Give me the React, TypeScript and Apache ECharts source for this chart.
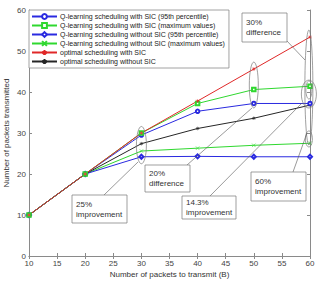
import React, { useEffect, useRef } from "react";
import * as echarts from "echarts";

const xValues = [10, 20, 30, 40, 50, 60];
const qSic95 = [10, 20, 29.5, 35.3, 37.2, 37.2];
const qSicMax = [10, 20, 30, 37.2, 40.6, 41.4];
const qNoSic95 = [10, 20, 24.2, 24.3, 24.2, 24.2];
const qNoSicMax = [10, 20, 25.6, 26.3, 27.0, 27.5];
const optSic = [10, 20, 30, 37.8, 45.6, 53.4];
const optNoSic = [10, 20, 27.4, 31.1, 33.6, 36.8];

const seriesNames = [
  "Q-learning scheduling with SIC (95th percentile)",
  "Q-learning scheduling with SIC (maximum values)",
  "Q-learning scheduling without SIC (95th percentile)",
  "Q-learning scheduling without SIC (maximum values)",
  "optimal scheduling with SIC",
  "optimal scheduling without SIC",
];

const xTitle = "Number of packets to transmit (B)";
const yTitle = "Number of packets transmitted";

// annotation ellipses in data space: [x, yTop, yBottom, rxPx]
const ellipses = [
  [30, 31.6, 22.5, 5],
  [50, 47.3, 36.1, 4.5],
  [59.8, 55.1, 27.1, 4],
  [59.8, 42.9, 36.1, 7.5],
  [59.8, 42.7, 38.3, 3],
  [59.8, 30.5, 26.6, 3.5],
];

// text boxes (pixel layout): [x, y, w, h, line1, line2]
const boxes: [number, number, number, number, string, string][] = [
  [72, 195, 55, 28, "25%", "improvement"],
  [145, 165, 45, 27, "20%", "difference"],
  [182, 196, 54, 23, "14.3%", "improvement"],
  [251, 172, 55, 29, "60%", "improvement"],
  [242, 13, 45, 29, "30%", "difference"],
];

const leaders = [
  [104, 195, 138, 162],
  [187, 165, 252, 108],
  [210, 196, 302, 103],
  [293, 172, 307, 133],
  [286, 40, 305, 60],
];

const FONT = "'Liberation Sans', Arial, sans-serif";
const star = "path://M5,0L5,10M0,5L10,5M1.5,1.5L8.5,8.5M1.5,8.5L8.5,1.5";
const cross = "path://M0,0L10,10M10,0L0,10";

export default function App() {
  const ref = useRef<HTMLDivElement>(null);
  useEffect(() => {
    if (!ref.current) return;
    const chart = echarts.init(ref.current, undefined, { renderer: "svg" });
    const mk = (name: string, data: number[], color: string, symbol: string, size = 4) => ({
      name,
      type: "line",
      data: xValues.map((x, i) => [x, data[i]]),
      symbol,
      symbolSize: size,
      showSymbol: true,
      lineStyle: { color, width: 1 },
      itemStyle: { color, borderColor: color, borderWidth: 0.6 },
      emphasis: { disabled: true },
      z: 3,
    });
    const axisCommon = {
      axisLine: { lineStyle: { color: "#8a8a8a", width: 1 } },
      axisTick: { inside: true, length: 3, lineStyle: { color: "#8a8a8a" } },
      splitLine: { show: false },
    };
    const option: any = {
      animation: false,
      backgroundColor: "#ffffff",
      textStyle: { fontFamily: FONT },
      grid: { left: 29, right: 8, top: 10, bottom: 26, containLabel: false, outerBoundsMode: "none" },
      legend: {
        orient: "vertical",
        left: 29,
        top: 10,
        itemWidth: 25,
        itemHeight: 6,
        itemGap: 2,
        padding: [3, 4, 3, 2],
        borderColor: "#8a8a8a",
        borderWidth: 0.8,
        backgroundColor: "#ffffff",
        textStyle: { fontSize: 7, color: "#222", fontFamily: FONT, padding: [0, 0, 0, -2] },
        data: seriesNames,
      },
      xAxis: [
        {
          type: "value",
          min: 10,
          max: 60,
          interval: 5,
          name: xTitle,
          nameLocation: "middle",
          nameGap: 14,
          nameMoveOverlap: false,
          nameTextStyle: { fontSize: 8, color: "#333", fontFamily: FONT },
          axisLabel: { fontSize: 8, color: "#444", margin: 3, fontFamily: FONT },
          ...axisCommon,
        },
        {
          type: "value",
          position: "top",
          min: 10,
          max: 60,
          interval: 5,
          axisLabel: { show: false },
          ...axisCommon,
        },
      ],
      yAxis: [
        {
          type: "value",
          min: 0,
          max: 60,
          interval: 10,
          name: yTitle,
          nameLocation: "middle",
          nameGap: 19,
          nameMoveOverlap: false,
          nameTextStyle: { fontSize: 8, color: "#333", fontFamily: FONT },
          axisLabel: { fontSize: 8, color: "#444", margin: 3, fontFamily: FONT },
          ...axisCommon,
        },
        {
          type: "value",
          position: "right",
          min: 0,
          max: 60,
          interval: 10,
          axisLabel: { show: false },
          ...axisCommon,
        },
      ],
      series: [
        mk(seriesNames[3], qNoSicMax, "#2fd82f", cross, 3.5),
        mk(seriesNames[2], qNoSic95, "#2a2ae0", "emptyDiamond", 4),
        mk(seriesNames[5], optNoSic, "#262626", star, 3.5),
        mk(seriesNames[0], qSic95, "#2a2ae0", "emptyCircle", 3.5),
        mk(seriesNames[1], qSicMax, "#2fd82f", "emptyRect", 3.5),
        mk(seriesNames[4], optSic, "#e02828", star, 3.5),
      ],
    };
    chart.setOption(option);

    const graphics: any[] = [];
    ellipses.forEach(([x, yt, yb, rx]) => {
      const pt = chart.convertToPixel({ xAxisIndex: 0, yAxisIndex: 0 }, [x, yt]) as number[];
      const pb = chart.convertToPixel({ xAxisIndex: 0, yAxisIndex: 0 }, [x, yb]) as number[];
      graphics.push({
        type: "ellipse",
        shape: { cx: pt[0], cy: (pt[1] + pb[1]) / 2, rx, ry: Math.abs(pb[1] - pt[1]) / 2 },
        style: { fill: "none", stroke: "#777", lineWidth: 0.7 },
        z: 10,
      });
    });
    leaders.forEach(([x1, y1, x2, y2]) => {
      graphics.push({
        type: "line",
        shape: { x1, y1, x2, y2 },
        style: { stroke: "#555", lineWidth: 0.6 },
        z: 10,
      });
    });
    boxes.forEach(([x, y, w, h, l1, l2]) => {
      graphics.push({
        type: "rect",
        shape: { x, y, width: w, height: h },
        style: { fill: "#fff", stroke: "#777", lineWidth: 0.7 },
        z: 11,
      });
      graphics.push({
        type: "text",
        x: x + 4,
        y: y + h / 2,
        style: {
          text: l1 + "\n" + l2,
          fontSize: 8,
          lineHeight: 10,
          fill: "#333",
          fontFamily: FONT,
          verticalAlign: "middle",
          align: "left",
        },
        z: 12,
      });
    });
    chart.setOption({ graphic: graphics });
    return () => chart.dispose();
  }, []);
  return (
    <div
      ref={ref}
      style={{ position: "fixed", left: 0, top: 0, width: 318, height: 282, background: "#fff" }}
    />
  );
}
